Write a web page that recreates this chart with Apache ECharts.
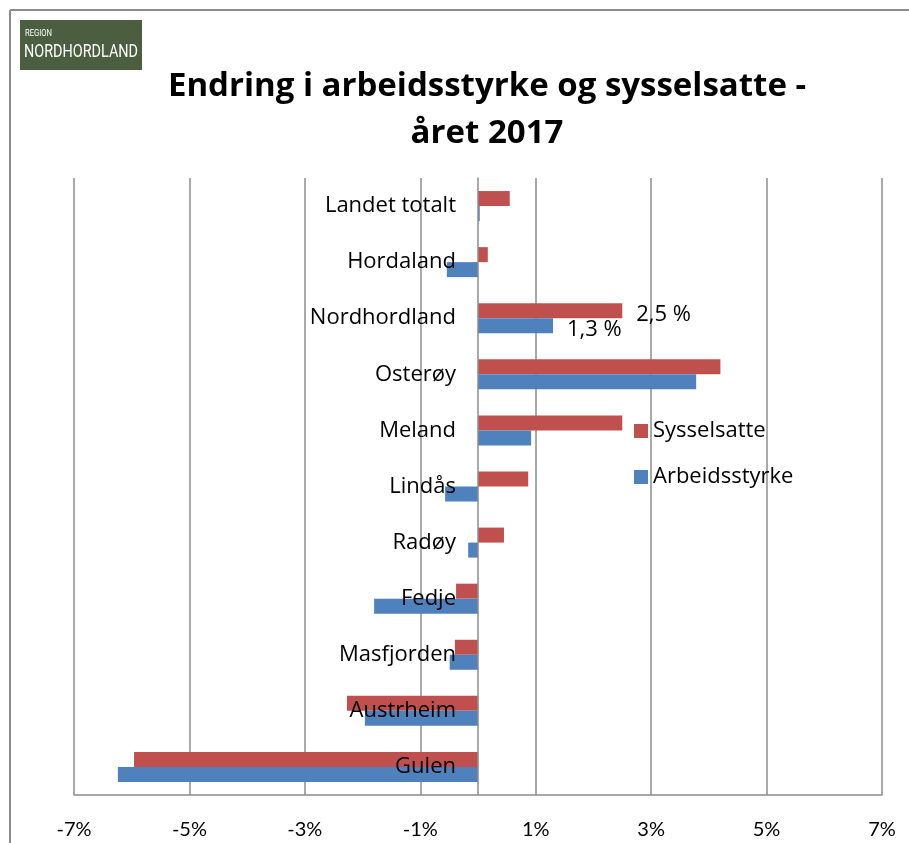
<!DOCTYPE html>
<html>
<head>
<meta charset="utf-8">
<script src="https://cdn.jsdelivr.net/npm/echarts@6/dist/echarts.min.js"></script>
<style>
  html, body { margin: 0; padding: 0; background: #fff; }
  #chart { width: 909px; height: 843px; }
</style>
</head>
<body>
<div id="chart"></div>
<script>
const categories = ["Landet totalt", "Hordaland", "Nordhordland", "Osterøy", "Meland", "Lindås",
  "Radøy", "Fedje", "Masfjorden", "Austrheim", "Gulen"];
const sysselsatte = [0.55, 0.17, 2.5, 4.2, 2.5, 0.87, 0.45, -0.38, -0.4, -2.27, -5.96];
const arbeidsstyrke = [0.03, -0.54, 1.3, 3.78, 0.92, -0.57, -0.17, -1.8, -0.49, -1.96, -6.24];
const labelled = "Nordhordland";

const font = "'Open Sans', sans-serif";
const tickFont = "Lato, sans-serif";
const chart = echarts.init(document.getElementById("chart"));

function withLabel(values) {
  return values.map((v, i) => categories[i] === labelled
    ? { value: v, label: { show: true, position: "right", distance: 14, offset: [0, 4], formatter: (p) => String(p.value).replace(".", ",") + " %" } }
    : v);
}

// grid spans -7..7 across 808px, zero sits half-way
const gridLeft = 74, gridWidth = 808;
const zeroOffset = gridWidth / 2;

chart.setOption({
  backgroundColor: "#fff",
  animation: false,
  title: {
    text: "Endring i arbeidsstyrke og sysselsatte -\nåret 2017",
    left: 487,
    top: 63,
    textAlign: "center",
    padding: 0,
    textStyle: { fontFamily: font, fontWeight: "bold", fontSize: 33, lineHeight: 47, color: "#000" },
  },
  legend: {
    orient: "vertical",
    left: 634,
    top: 420,
    padding: 0,
    itemWidth: 14,
    itemHeight: 14,
    itemGap: 24,
    icon: "rect",
    data: ["Sysselsatte", "Arbeidsstyrke"],
    textStyle: { fontFamily: font, fontSize: 22, color: "#000" },
  },
  grid: { left: gridLeft, width: gridWidth, top: 178, bottom: 48, containLabel: false, outerBoundsMode: "none" },
  xAxis: {
    type: "value",
    min: -7,
    max: 7,
    interval: 2,
    axisLine: { show: true, onZero: false, lineStyle: { color: "#8c8c8c", width: 1.5 } },
    axisTick: { show: false },
    axisLabel: { margin: 25, fontFamily: tickFont, fontSize: 20, color: "#000", formatter: "{value}%" },
    splitLine: { show: true, lineStyle: { color: "#8c8c8c", width: 1.5 } },
  },
  yAxis: {
    type: "category",
    inverse: true,
    data: categories,
    offset: -zeroOffset,
    z: 5,
    axisLine: { show: true, onZero: false, lineStyle: { color: "#8c8c8c", width: 1.5 } },
    axisTick: { show: false },
    axisLabel: { margin: 22, padding: [6, 0, 0, 0], fontFamily: font, fontSize: 22, color: "#000" },
  },
  series: [
    {
      name: "Sysselsatte",
      type: "bar",
      barWidth: 15,
      barGap: "0%",
      itemStyle: { color: "#c0504d" },
      label: { fontFamily: font, fontSize: 22, color: "#000" },
      data: withLabel(sysselsatte),
    },
    {
      name: "Arbeidsstyrke",
      type: "bar",
      barWidth: 15,
      itemStyle: { color: "#4f81bd" },
      label: { fontFamily: font, fontSize: 22, color: "#000" },
      data: withLabel(arbeidsstyrke),
    },
  ],
  graphic: [
    { type: "line", shape: { x1: 10, y1: 10, x2: 909, y2: 10 }, style: { stroke: "#8c8c8c", lineWidth: 2 } },
    { type: "line", shape: { x1: 10, y1: 10, x2: 10, y2: 843 }, style: { stroke: "#8c8c8c", lineWidth: 2 } },
    { type: "rect", shape: { x: 20, y: 20, width: 122, height: 50 }, style: { fill: "#4b5e3f" } },
    { type: "text", x: 25, y: 29, scaleX: 0.85, style: { text: "REGION", fill: "#fff", font: "9px Roboto, sans-serif", verticalAlign: "top" } },
    { type: "text", x: 24, y: 43, scaleX: 0.8, style: { text: "NORDHORDLAND", fill: "#fff", font: "18px Roboto, sans-serif", verticalAlign: "top" } },
  ],
});
</script>
</body>
</html>
